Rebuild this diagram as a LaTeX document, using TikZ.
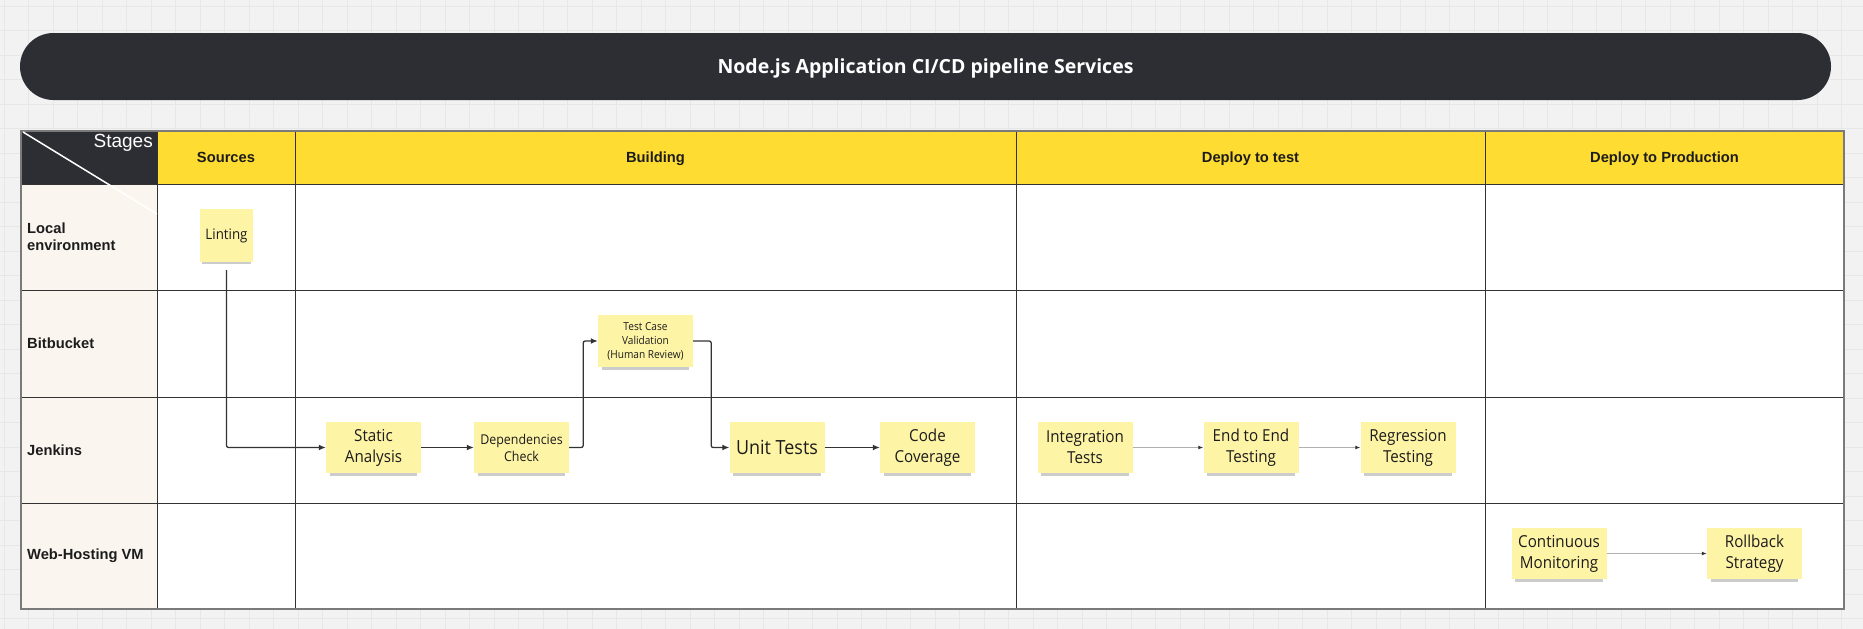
\documentclass[tikz,border=0pt]{standalone}
\usepackage{fontspec}
\usepackage{xcolor}
\usetikzlibrary{arrows.meta,positioning,shadows}
\setmainfont{Liberation Sans}
\newfontfamily\titlefont{Open Sans}
\newfontfamily\stickyfont{Open Sans}[FakeStretch=0.92]

\definecolor{bgpaper}{HTML}{F2F2F2}
\definecolor{bggrid}{HTML}{E7E7E7}
\definecolor{titledark}{HTML}{2D2E33}
\definecolor{headyellow}{HTML}{FFDC32}
\definecolor{rowcream}{HTML}{FAF6EF}
\definecolor{stickyyellow}{HTML}{FEF4A6}
\definecolor{inktext}{HTML}{1C1C1C}
\definecolor{cellline}{HTML}{333333}
\definecolor{tableborder}{HTML}{7A7A7A}
\definecolor{arrowdark}{HTML}{333333}
\definecolor{arrowgray}{HTML}{B0B0B0}

\tikzset{
  sticky/.style={fill=stickyyellow, minimum width=95pt, minimum height=51pt, inner sep=1pt,
    align=center, text=inktext, font=\stickyfont\fontsize{16.5}{21}\selectfont,
    drop shadow={shadow xshift=0pt, shadow yshift=-5pt, opacity=.4, shadow scale=.92}},
  flow/.style={-{Latex[length=7pt,width=6pt]}, draw=arrowdark, line width=1.3pt, rounded corners=2pt},
  softflow/.style={-{Latex[length=5pt,width=4pt,color=arrowdark]}, draw=arrowgray, line width=1pt},
  colhead/.style={font=\bfseries\fontsize{14.7}{17}\selectfont, text=inktext, anchor=base},
  rowhead/.style={font=\bfseries\fontsize{14.7}{17}\selectfont, text=inktext, anchor=west, align=left, inner sep=0pt},
}

\begin{document}
\begin{tikzpicture}[x=1pt, y=-1pt]
\useasboundingbox (0,0) rectangle (1863,629);

% Board background
\fill[bgpaper] (0,0) rectangle (1863,629);
\foreach \x in {4,28.5,...,1863}{%
  \draw[bggrid, line width=0.8pt] (\x,0) -- (\x,629);
}
\foreach \y in {6.3,30.8,...,629}{%
  \draw[bggrid, line width=0.8pt] (0,\y) -- (1863,\y);
}

% Title bar
\node[fill=titledark, rounded corners=33.5pt, minimum width=1811pt, minimum height=67pt, text depth=0pt,
  text=white, font=\titlefont\bfseries\fontsize{19.5}{23}\selectfont] (title) at (925.5,66.5)
  {Node.js Application CI/CD pipeline Services};

% Swimlane table
\fill[titledark] (21,131) rectangle (157,184);
\fill[headyellow] (157,131) rectangle (1844,184);
\fill[rowcream] (21,184) rectangle (157,609);
\fill[white] (157,184) rectangle (1844,609);
\foreach \x in {157,295,1016,1485}{%
  \draw[cellline, line width=1pt] (\x,131) -- (\x,609);
}
\foreach \y in {184,290,397,503}{%
  \draw[cellline, line width=1pt] (21,\y) -- (1844,\y);
}
\draw[tableborder, line width=1.5pt] (21,131) rectangle (1844,609);
\draw[white, line width=1.5pt] (23,132) -- (157,214);

\node[text=white, font=\fontsize{19}{22}\selectfont, anchor=north east, inner sep=0pt] (stages) at (153,134) {Stages};

% Stage headers
\node[colhead] (hsources) at (226,162.5) {Sources};
\node[colhead] (hbuilding) at (655.5,162.5) {Building};
\node[colhead] (hdeploytest) at (1250.5,162.5) {Deploy to test};
\node[colhead] (hdeployprod) at (1664.5,162.5) {Deploy to Production};

% Lane labels
\node[rowhead] (llocal) at (27,237) {Local\\environment};
\node[rowhead] (lbitbucket) at (27,343) {Bitbucket};
\node[rowhead] (ljenkins) at (27,450) {Jenkins};
\node[rowhead] (lvm) at (27,556) {Web-Hosting VM};

% Sticky notes
\node[sticky, minimum width=53pt, minimum height=53pt, font=\stickyfont\fontsize{14.5}{18}\selectfont] (lint) at (226.5,235.5) {Linting};
\node[sticky] (static) at (373.5,447.5) {Static\\Analysis};
\node[sticky, font=\stickyfont\fontsize{13.5}{17}\selectfont] (deps) at (521.5,447.5) {Dependencies\\Check};
\node[sticky, minimum height=52pt, font=\stickyfont\fontsize{11}{14}\selectfont] (tcv) at (645.5,341) {Test Case\\Validation\\(Human Review)};
\node[sticky, font=\stickyfont\fontsize{19.5}{23}\selectfont] (unit) at (777,447.5) {Unit Tests};
\node[sticky] (cov) at (927.5,447.5) {Code\\Coverage};
\node[sticky] (integ) at (1085,447.5) {Integration\\Tests};
\node[sticky] (e2e) at (1251,447.5) {End to End\\Testing};
\node[sticky] (regr) at (1408,447.5) {Regression\\Testing};
\node[sticky] (monitor) at (1559,553.5) {Continuous\\Monitoring};
\node[sticky] (rollback) at (1754.5,553.5) {Rollback\\Strategy};

% Building flow
\draw[flow] ([yshift=-8pt]lint.south) |- (static.west);
\draw[flow] (static.east) -- (deps.west);
\draw[flow] (deps.east) -- ++(14,0) |- (tcv.west);
\draw[flow] (tcv.east) -- ++(18,0) |- (unit.west);
\draw[flow] (unit.east) -- (cov.west);

% Test and production flow
\draw[softflow] (integ.east) -- (e2e.west);
\draw[softflow] (e2e.east) -- (regr.west);
\draw[softflow] (monitor.east) -- (rollback.west);

\end{tikzpicture}
\end{document}
